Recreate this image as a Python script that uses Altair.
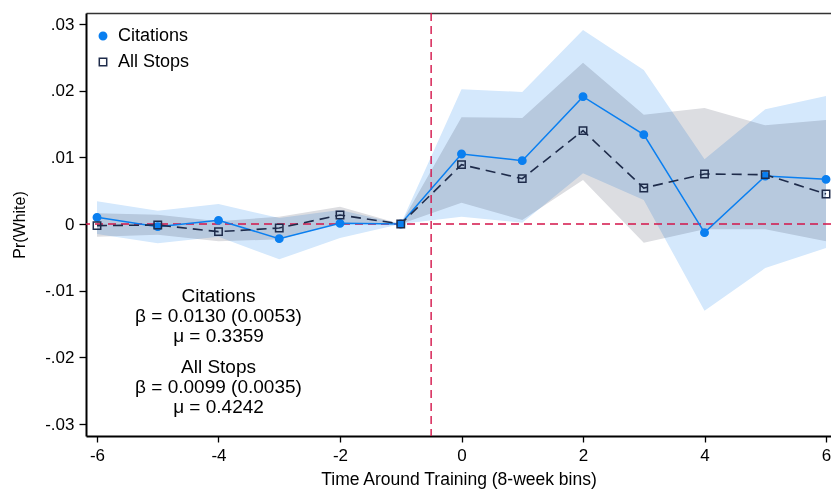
import altair as alt
import pandas as pd

# ---- data ----
bins = [-6, -5, -4, -3, -2, -1, 0, 1, 2, 3, 4, 5, 6]

cit_est = [0.0010, -0.0004, 0.00055, -0.0022, 0.0001, 0.0, 0.0105, 0.0095, 0.0191, 0.0134, -0.0013, 0.0072, 0.0067]
cit_lo = [-0.0015, -0.0029, -0.0019, -0.0053, -0.0021, 0.0, 0.0011, 0.0002, 0.0076, 0.0036, -0.0130, -0.0066, -0.0036]
cit_hi = [0.0034, 0.0020, 0.0030, 0.0009, 0.0021, 0.0, 0.0202, 0.0198, 0.0291, 0.0231, 0.0097, 0.0172, 0.0192]

all_est = [-0.00025, -0.00015, -0.00115, -0.0006, 0.00135, 0.0, 0.0089, 0.0068, 0.0140, 0.0054, 0.0075, 0.0074, 0.0045]
all_lo = [-0.0019, -0.0016, -0.0026, -0.0023, 0.0001, 0.0, 0.0032, 0.0006, 0.0066, -0.0028, -0.0008, -0.0008, -0.0026]
all_hi = [0.0016, 0.0014, 0.0004, 0.0011, 0.0026, 0.0, 0.0160, 0.0159, 0.0242, 0.0164, 0.0174, 0.0148, 0.0156]

series_names = ["Citations", "All Stops"]

ref_x = [-0.5]
ref_y = [0.0]

x_ticks = [-6, -4, -2, 0, 2, 4, 6]
y_ticks = [-0.03, -0.02, -0.01, 0.0, 0.01, 0.02, 0.03]

ann_x = [-4.0, -4.0]
ann_y = [-0.01175, -0.02235]
ann_text = [
    "Citations\nβ = 0.0130 (0.0053)\nμ = 0.3359",
    "All Stops\nβ = 0.0099 (0.0035)\nμ = 0.4242",
]

# ---- styling ----
BLUE = "#0a7ff0"
NAVY = "#1e2b4a"
RED = "#d4144a"
FONT = "Liberation Sans"

cit_df = pd.DataFrame({"t": bins, "est": cit_est, "lo": cit_lo, "hi": cit_hi, "series": series_names[0]})
all_df = pd.DataFrame({"t": bins, "est": all_est, "lo": all_lo, "hi": all_hi, "series": series_names[1]})
long_df = pd.concat([cit_df, all_df], ignore_index=True)

xscale = alt.Scale(domain=[-6.181, 6.082], nice=False, zero=False)
yscale = alt.Scale(domain=[-0.0318, 0.03165], nice=False, zero=False)

bottom_axis = alt.Axis(
    orient="bottom", values=x_ticks, grid=False,
    labelExpr="(datum.value < 0 ? '-' : '') + abs(datum.value)",
    domainColor="black", domainWidth=2, tickColor="black", tickWidth=1.3, tickSize=6,
    labelFont=FONT, labelFontSize=17, labelColor="black", labelPadding=5,
    title="Time Around Training (8-week bins)", titleFont=FONT, titleFontSize=17.5,
    titleFontWeight="normal", titleColor="black", titlePadding=7,
)
left_axis = alt.Axis(
    orient="left", values=y_ticks, grid=False,
    labelExpr="datum.value == 0 ? '0' : (datum.value < 0 ? '-' : '') + replace(format(abs(datum.value), '.2f'), '0.', '.')",
    domainColor="black", domainWidth=2, tickColor="black", tickWidth=1.3, tickSize=7,
    labelFont=FONT, labelFontSize=17, labelColor="black", labelPadding=5,
    title="Pr(White)", titleFont=FONT, titleFontSize=16, titleFontWeight="normal",
    titleColor="black", titlePadding=17,
)
top_axis = alt.Axis(orient="top", labels=False, ticks=False, grid=False, title=None,
                    domainColor="#333333", domainWidth=1.6)

band_cit = alt.Chart(cit_df).mark_area(color="#d4e8fc", opacity=1, blend="multiply").encode(
    x=alt.X("t:Q", scale=xscale, axis=None),
    y=alt.Y("lo:Q", scale=yscale, axis=None),
    y2="hi:Q",
)
band_all = alt.Chart(all_df).mark_area(color="#dcdde1", opacity=1, blend="multiply").encode(
    x=alt.X("t:Q", scale=xscale, axis=None),
    y=alt.Y("lo:Q", scale=yscale, axis=None),
    y2="hi:Q",
)

vrule = alt.Chart(pd.DataFrame({"rx": ref_x})).mark_rule(
    color=RED, strokeDash=[8, 5], strokeWidth=1.4
).encode(x=alt.X("rx:Q", scale=xscale, axis=top_axis))
hrule = alt.Chart(pd.DataFrame({"ry": ref_y})).mark_rule(
    color=RED, strokeDash=[8, 5], strokeWidth=1.4
).encode(y=alt.Y("ry:Q", scale=yscale, axis=None))

line_cit = alt.Chart(cit_df).mark_line(color=BLUE, strokeWidth=1.5).encode(
    x=alt.X("t:Q", scale=xscale, axis=bottom_axis),
    y=alt.Y("est:Q", scale=yscale, axis=left_axis),
)
line_all = alt.Chart(all_df).mark_line(color=NAVY, strokeWidth=1.6, strokeDash=[10, 6]).encode(
    x=alt.X("t:Q", scale=xscale, axis=None),
    y=alt.Y("est:Q", scale=yscale, axis=None),
)

legend = alt.Legend(
    title=None, orient="none", legendX=8, legendY=14, labelFont=FONT, labelFontSize=18,
    labelColor="black", symbolStrokeWidth=1.5, symbolSize=55, rowPadding=8,
    labelOffset=6, padding=0,
)
points = alt.Chart(long_df).mark_point(opacity=1, strokeWidth=1.5, size=55).encode(
    x=alt.X("t:Q", scale=xscale, axis=None),
    y=alt.Y("est:Q", scale=yscale, axis=None),
    color=alt.Color("series:N", scale=alt.Scale(domain=series_names, range=[BLUE, NAVY]), legend=legend),
    fill=alt.Fill("series:N", scale=alt.Scale(domain=series_names, range=[BLUE, "transparent"]), legend=legend),
    shape=alt.Shape("series:N", scale=alt.Scale(domain=series_names, range=["circle", "square"]), legend=legend),
)

ann = alt.Chart(pd.DataFrame({"ax": ann_x, "ay": ann_y, "txt": ann_text})).mark_text(
    font=FONT, fontSize=19, lineHeight=20, align="center", baseline="alphabetic",
    color="black", lineBreak="\n",
).encode(
    x=alt.X("ax:Q", scale=xscale, axis=None),
    y=alt.Y("ay:Q", scale=yscale, axis=None),
    text="txt:N",
)

chart = alt.layer(
    band_all, band_cit, vrule, hrule, line_cit, line_all, points, ann
).resolve_axis(x="independent", y="independent").properties(
    width=745, height=423,
    autosize=alt.AutoSizeParams(type="none"),
    padding={"left": 86, "top": 13, "right": 0, "bottom": 55},
    background="white",
).configure_view(stroke=None)

chart.save("out.html", embed_options={"renderer": "svg", "actions": False})
